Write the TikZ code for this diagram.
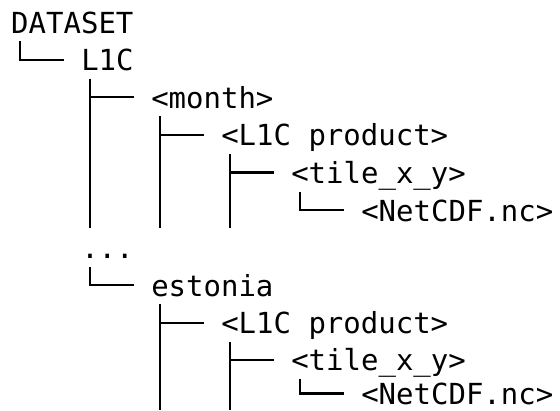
\documentclass[tikz,border=0pt]{standalone}
\usepackage{fontspec}
\newfontfamily\treefont{DejaVu Sans Mono}
\usetikzlibrary{calc}

\tikzset{
  entry/.style={anchor=base west, inner sep=0pt, outer sep=0pt,
    font=\treefont\fontsize{29}{29}\selectfont, text=black},
  branch/.style={draw=black, line width=2.2pt, line join=miter},
}

\begin{document}
\begin{tikzpicture}[x=1pt,y=-1pt]
\useasboundingbox[fill=white] (0,0) rectangle (560,410);

% rows: baseline about 33 + 37.5*r ; columns: left edge 11.25 + 17.5*c
\node[entry] (root)  at (11.25,33)    {DATASET};
\node[entry] (l1c)   at (81.25,70.6)  {L1C};
\node[entry] (month) at (151.25,108.2) {<month>};
\node[entry] (prodA) at (221.25,145.8) {<L1C product>};
\node[entry] (tileA) at (291.25,183.4) {<tile\_x\_y>};
\node[entry] (ncA)   at (361.25,221)   {<NetCDF.nc>};
\node[entry] (more)  at (81.25,258.6)  {...};
\node[entry] (est)   at (151.25,296.2) {estonia};
\node[entry] (prodB) at (221.25,333.6) {<L1C product>};
\node[entry] (tileB) at (291.25,370.6) {<tile\_x\_y>};
\node[entry] (ncB)   at (361.25,404.5) {<NetCDF.nc>};

% trunk start below each parent, and the end of each branch stub
\foreach \n in {root,l1c,month,prodA,tileA,more,est,prodB,tileB}
  \coordinate (\n-bar) at ([shift={(8.75pt,-8.2pt)}]\n.base west);
\foreach \n in {l1c,month,prodA,tileA,ncA,est,prodB,tileB,ncB}
  \coordinate (\n-tip) at ([shift={(-17.5pt,11pt)}]\n.base west);

% where the open trunks stop
\coordinate (cutA) at ([yshift=-6.5pt]ncA.base);
\coordinate (cutB) at (0,410);

% upper subtree
\draw[branch] (root-bar)  |- (l1c-tip);
\draw[branch] (l1c-bar)   |- (month-tip);
\draw[branch] (month-bar) |- (prodA-tip);
\draw[branch] (prodA-bar) |- (tileA-tip);
\draw[branch] (tileA-bar) |- (ncA-tip);
\draw[branch] (l1c-bar)   -- (l1c-bar |- cutA);
\draw[branch] (month-bar) -- (month-bar |- cutA);
\draw[branch] (prodA-bar) -- (prodA-bar |- cutA);

% lower subtree
\draw[branch] (more-bar)  |- (est-tip);
\draw[branch] (est-bar)   |- (prodB-tip);
\draw[branch] (prodB-bar) |- (tileB-tip);
\draw[branch] (tileB-bar) |- (ncB-tip);
\draw[branch] (est-bar)   -- (est-bar |- cutB);
\draw[branch] (prodB-bar) -- (prodB-bar |- cutB);
\end{tikzpicture}
\end{document}
